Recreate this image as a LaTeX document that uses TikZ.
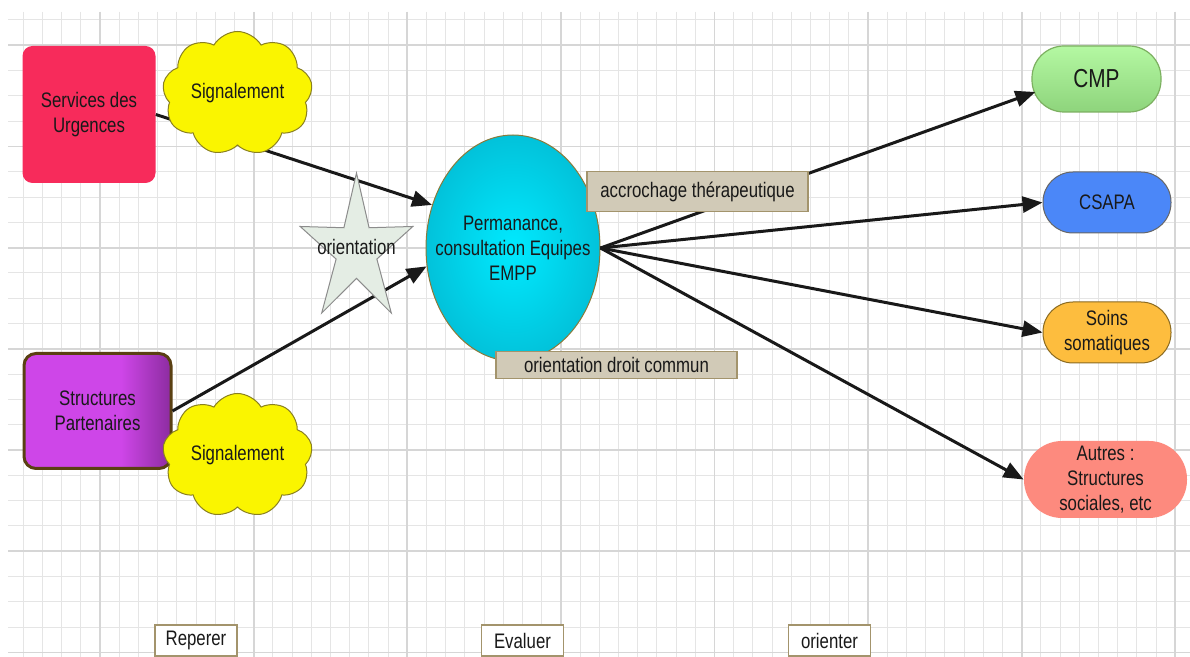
\documentclass[tikz,border=0pt]{standalone}
\usepackage{fontspec}
\setmainfont{Liberation Sans}[FakeStretch=0.8]
\usepackage{xcolor}
\usepackage{tikz}
\usetikzlibrary{arrows.meta,positioning,shapes.geometric,shapes.symbols,calc}

\definecolor{urgred}{HTML}{F72B5B}
\definecolor{partlight}{HTML}{CE46E8}
\definecolor{partdark}{HTML}{8C2CA0}
\definecolor{partedge}{HTML}{5A4012}
\definecolor{cyanin}{HTML}{00EAFF}
\definecolor{cyanout}{HTML}{02C2DA}
\definecolor{olive}{HTML}{8A7A3A}
\definecolor{cloudfill}{HTML}{FAF500}
\definecolor{cloudedge}{HTML}{8A8020}
\definecolor{starfill}{HTML}{E4EDE4}
\definecolor{tagfill}{HTML}{D1CAB7}
\definecolor{tagedge}{HTML}{A3946C}
\definecolor{cmptop}{HTML}{B4F8A2}
\definecolor{cmpbot}{HTML}{8ED47C}
\definecolor{cmpedge}{HTML}{7CB060}
\definecolor{csapablue}{HTML}{4B87F8}
\definecolor{soinsorange}{HTML}{FDBD3E}
\definecolor{soinsedge}{HTML}{8A6A20}
\definecolor{autressalmon}{HTML}{FD8A7E}

\pgfdeclarehorizontalshading{partshade}{100bp}{color(0bp)=(partlight); color(58bp)=(partlight);
  color(75bp)=(partdark); color(100bp)=(partdark)}

\begin{document}
\begin{tikzpicture}[
  x=0.5pt, y=-0.5pt,
  font=\fontsize{10.5}{12.4}\selectfont,
  every node/.style={align=center, text=black!90},
  gridline/.style={draw=black!10, line width=0.5pt},
  gridmajor/.style={draw=black!16, line width=0.9pt},
  urgbox/.style={fill=urgred, rounded corners=5pt, minimum width=66.5pt,
                 minimum height=68.5pt, inner sep=0pt},
  partbox/.style={shading=partshade, draw=partedge, line width=1.5pt, rounded corners=6pt,
                  minimum width=73.5pt, minimum height=57.5pt, inner sep=0pt},
  emppbox/.style={ellipse, draw=olive, line width=0.5pt, inner color=cyanin,
                  outer color=cyanout, minimum width=87pt, minimum height=113pt, inner sep=0pt},
  cloudbox/.style={cloud, cloud puffs=9, cloud puff arc=120, cloud ignores aspect,
                   fill=cloudfill, draw=cloudedge, line width=0.5pt,
                   minimum width=75pt, minimum height=62pt, inner sep=0pt},
  tag/.style={fill=tagfill, draw=tagedge, line width=0.8pt, inner sep=0pt,
              minimum width=110.5pt, minimum height=20pt},
  phase/.style={fill=white, draw=tagedge, line width=0.6pt, inner sep=0pt,
                minimum width=41pt, minimum height=15.5pt},
  pill/.style={minimum width=64pt, minimum height=30.5pt, rounded corners=15pt, inner sep=0pt},
  arr/.style={-{Triangle[length=10pt, width=8pt]}, black!90, line width=1.5pt},
]

%% --- Background grid ---
\fill[white] (0,0) rectangle (1190,657);
\useasboundingbox (0,0) rectangle (1190,657);
\foreach \k in {0,...,60} \draw[gridline] (23.2+19.2*\k,12) -- (23.2+19.2*\k,657);
\foreach \j in {0,...,25} \draw[gridline] (8,20+25.3*\j) -- (1190,20+25.3*\j);
\foreach \m in {0,...,7} \draw[gridmajor] (100+153.6*\m,12) -- (100+153.6*\m,657);
\foreach \m in {0,...,6} \draw[gridmajor] (8,45.3+101.2*\m) -- (1190,45.3+101.2*\m);

%% --- Sources (left) ---
\node[urgbox] (urg) at (89,114.5) {Services des\\Urgences};
\node[partbox] (part) at (97.5,411) {Structures\\Partenaires};

%% --- Centre: EMPP ---
\node[emppbox] (empp) at (513,248) {};
\node (empptext) at (513,248) {Permanance,\\consultation Equipes\\EMPP};

%% --- Destinations (right) ---
\node[pill, top color=cmptop, bottom color=cmpbot, draw=cmpedge, line width=0.6pt,
      minimum width=64.5pt, minimum height=33pt, rounded corners=16pt,
      font=\fontsize{13}{15}\selectfont] (cmp) at (1096.5,79) {CMP};
\node[pill, fill=csapablue, draw=black!60, line width=0.5pt] (csapa) at (1107,202.5) {CSAPA};
\node[pill, fill=soinsorange, draw=soinsedge, line width=0.5pt] (soins) at (1107,332.5) {Soins\\somatiques};
\node[pill, fill=autressalmon, minimum width=81.5pt, minimum height=38.5pt,
      rounded corners=19pt] (autres) at (1105.5,479.5) {Autres :\\Structures\\sociales, etc};

%% --- Arrows ---
\draw[arr] (urg.east)  -- (empp.152);
\draw[arr] (part.east) -- (empp.192);
\draw[arr] (empp.east) -- ([xshift=2pt, yshift=-6.5pt]cmp.west);
\draw[arr] (empp.east) -- (csapa.west);
\draw[arr] (empp.east) -- (soins.west);
\draw[arr] (empp.east) -- (autres.west);

%% --- Clouds and star ---
\node[cloudbox] (sig1) at (237.5,93.5) {Signalement};
\node[cloudbox] (sig2) at (237.5,455.5) {Signalement};

\coordinate (starc) at (356.5,250.4);
\filldraw[fill=starfill, draw=black!45, line width=0.5pt] ([shift={(0,-77.4)}]starc)
  \foreach \k in {1,...,9}{ -- ([shift={({0.765*(52.7+24.7*cos(180*\k))*cos(90+36*\k)},
                                         {-(52.7+24.7*cos(180*\k))*sin(90+36*\k)})}]starc)} -- cycle;
\node (orient) at (356.5,246.5) {orientation};

%% --- Labels ---
\node[tag] (accr) at (697.5,191.7) {accrochage thérapeutique};
\node[tag, minimum width=120.5pt, minimum height=13.5pt] (droit) at (616.5,365) {orientation droit commun};

%% --- Phases (bottom) ---
\node[phase] (rep)  at (196,640.5)   {Reperer};
\node[phase] (eval) at (522.5,640.5) {Evaluer};
\node[phase] (ori)  at (829.5,640.5) {orienter};

\end{tikzpicture}
\end{document}
